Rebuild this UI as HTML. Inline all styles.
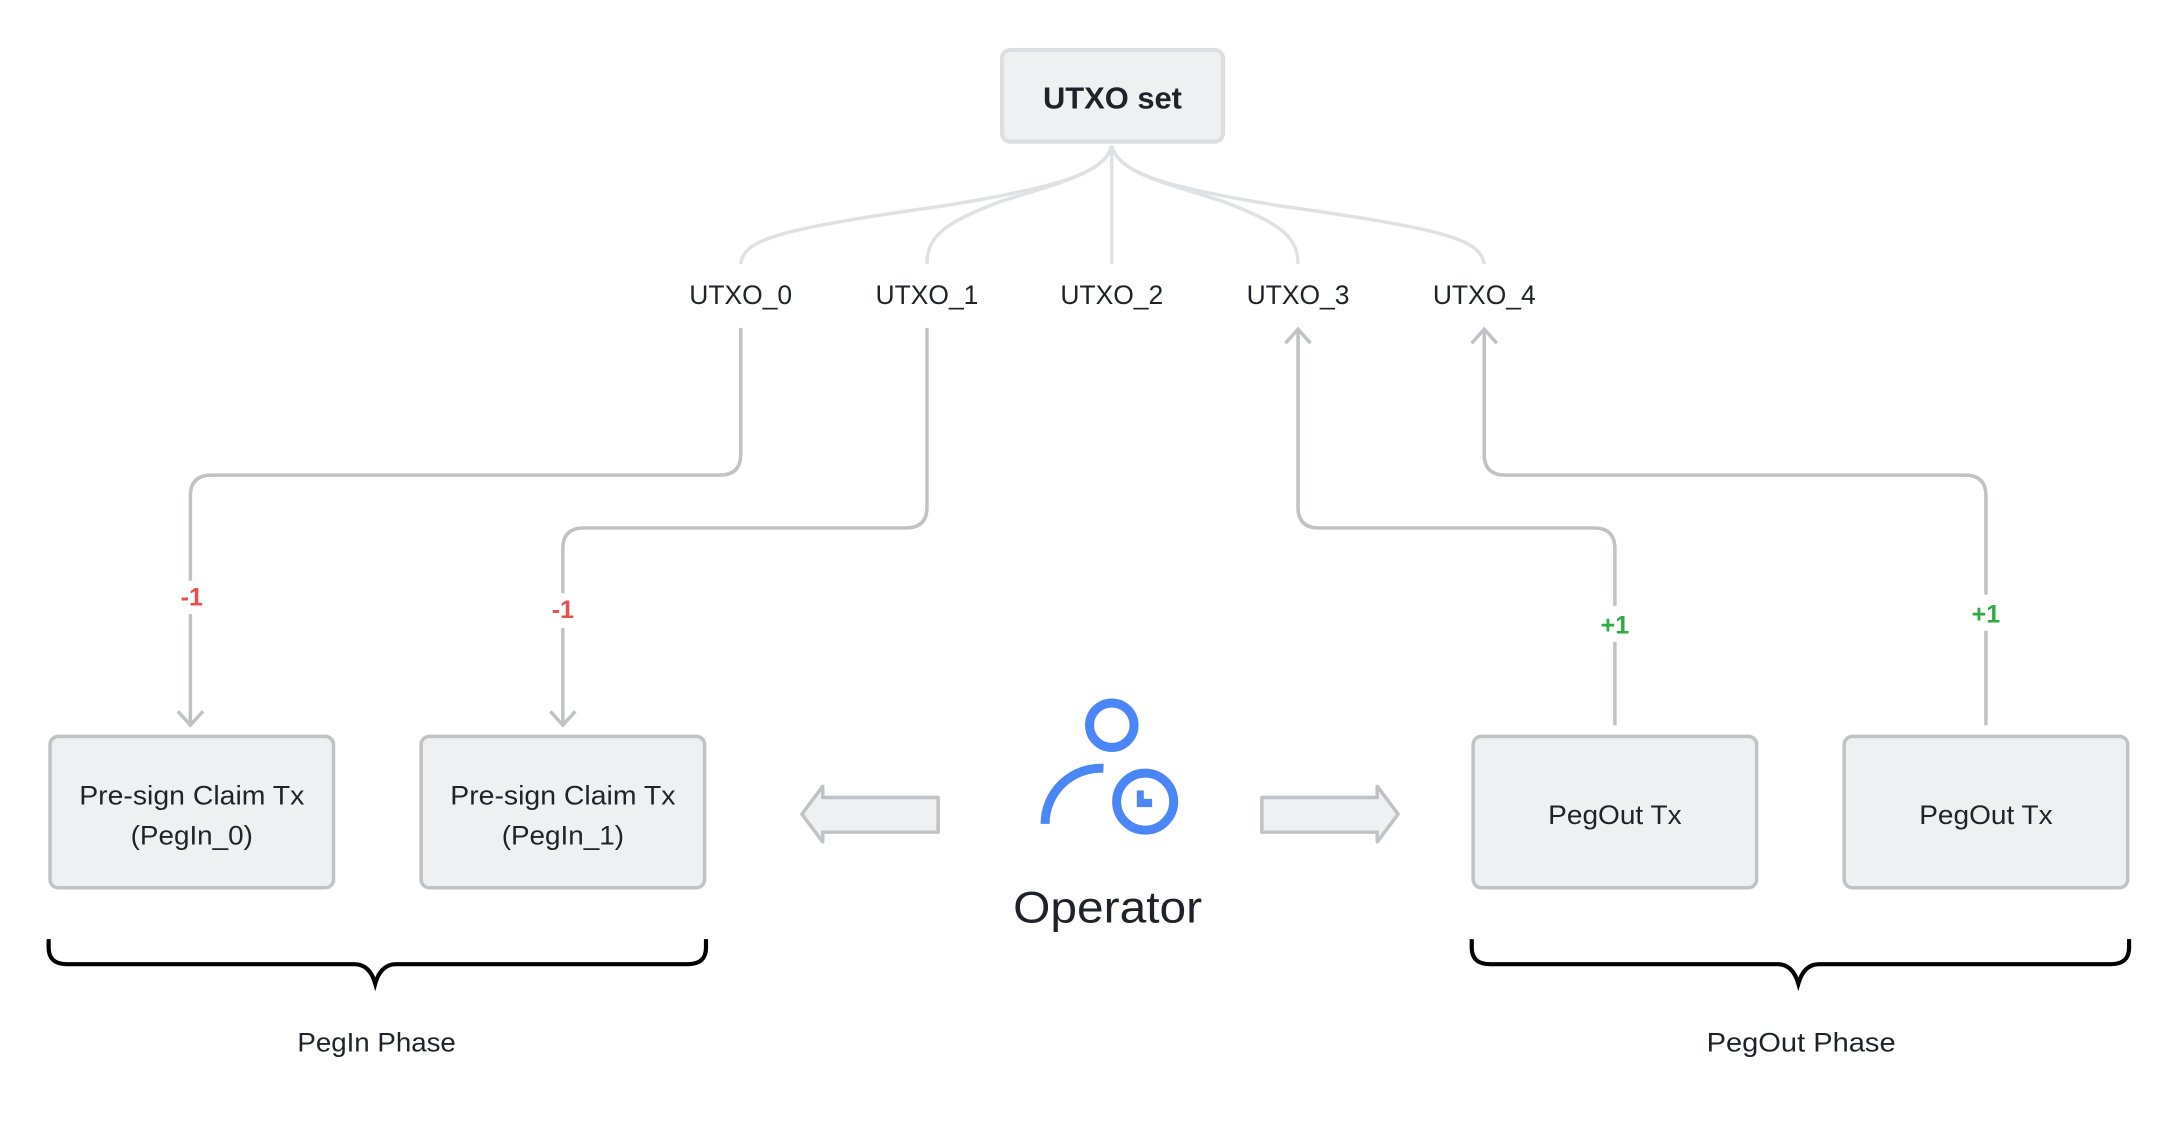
<!DOCTYPE html>
<html><head><meta charset="utf-8"><style>
html,body{margin:0;padding:0;background:#fff;}
svg{display:block;}
text{font-family:"Liberation Sans","DejaVu Sans",sans-serif;}
</style></head><body>
<svg width="2168" height="1142" viewBox="0 0 1560 822" preserveAspectRatio="none" xmlns="http://www.w3.org/2000/svg">
<!-- UTXO set -->
<rect x="721" y="36" width="159" height="66" rx="6" fill="#eff0f2" stroke="#dcdee1" stroke-width="3"/>
<text x="800.5" y="78" font-size="22" font-weight="bold" fill="#1f2329" text-anchor="middle" textLength="100" lengthAdjust="spacingAndGlyphs">UTXO set</text>
<!-- curves -->
<g fill="none" stroke="#e0e1e4" stroke-width="2.5">
<path d="M800,105 C795,125 760,135 680,148 C560,165 535,172 533,190"/>
<path d="M800,105 C795,125 760,132 720,145 C680,160 667,170 667,190"/>
<path d="M800,105 L800,190"/>
<path d="M800,105 C805,125 840,132 880,145 C920,160 934,170 934,190"/>
<path d="M800,105 C805,125 840,135 920,148 C1040,165 1065,172 1068,190"/>
</g>
<!-- UTXO labels -->
<g font-size="19" fill="#1f2329" text-anchor="middle">
<text x="533" y="219" textLength="74" lengthAdjust="spacingAndGlyphs">UTXO_0</text>
<text x="667" y="219" textLength="74" lengthAdjust="spacingAndGlyphs">UTXO_1</text>
<text x="800" y="219" textLength="74" lengthAdjust="spacingAndGlyphs">UTXO_2</text>
<text x="934" y="219" textLength="74" lengthAdjust="spacingAndGlyphs">UTXO_3</text>
<text x="1068" y="219" textLength="74" lengthAdjust="spacingAndGlyphs">UTXO_4</text>
</g>
<!-- connectors -->
<g fill="none" stroke="#c0c2c6" stroke-width="2.5">
<path d="M533,236 L533,327 Q533,342 518,342 L152,342 Q137,342 137,357 L137,418"/>
<path d="M137,442 L137,522"/>
<path d="M128,512 L137,522 L146,512"/>
<path d="M667,236 L667,365 Q667,380 652,380 L420,380 Q405,380 405,395 L405,427"/>
<path d="M405,452 L405,522"/>
<path d="M396,512 L405,522 L414,512"/>
<path d="M934,238 L934,365 Q934,380 949,380 L1147,380 Q1162,380 1162,395 L1162,436"/>
<path d="M1162,462 L1162,522"/>
<path d="M925,247 L934,237 L943,247"/>
<path d="M1068,238 L1068,327 Q1068,342 1083,342 L1414,342 Q1429,342 1429,357 L1429,428"/>
<path d="M1429,454 L1429,522"/>
<path d="M1059,247 L1068,237 L1077,247"/>
</g>
<g font-size="18" font-weight="bold" text-anchor="middle">
<text x="138" y="436" fill="#f04b4b">-1</text>
<text x="405" y="445" fill="#f04b4b">-1</text>
<text x="1162" y="456" fill="#2eaa44">+1</text>
<text x="1429" y="448" fill="#2eaa44">+1</text>
</g>
<!-- boxes -->
<g fill="#eff0f2" stroke="#c0c2c6" stroke-width="2.5">
<rect x="36" y="530" width="204" height="109" rx="6"/>
<rect x="303" y="530" width="204" height="109" rx="6"/>
<rect x="1060" y="530" width="204" height="109" rx="6"/>
<rect x="1327" y="530" width="204" height="109" rx="6"/>
</g>
<g font-size="19" fill="#1f2329" text-anchor="middle">
<text x="138" y="579" textLength="162" lengthAdjust="spacingAndGlyphs">Pre-sign Claim Tx</text>
<text x="138" y="608" textLength="88" lengthAdjust="spacingAndGlyphs">(PegIn_0)</text>
<text x="405" y="579" textLength="162" lengthAdjust="spacingAndGlyphs">Pre-sign Claim Tx</text>
<text x="405" y="608" textLength="88" lengthAdjust="spacingAndGlyphs">(PegIn_1)</text>
<text x="1162" y="593" textLength="96" lengthAdjust="spacingAndGlyphs">PegOut Tx</text>
<text x="1429" y="593" textLength="96" lengthAdjust="spacingAndGlyphs">PegOut Tx</text>
</g>
<!-- hollow arrows -->
<g fill="#eff0f2" stroke="#c0c2c6" stroke-width="2.5" stroke-linejoin="round">
<path d="M675,574 L592,574 L592,566 L577,586 L592,606 L592,599 L675,599 Z"/>
<path d="M908,574 L991,574 L991,566 L1006,586 L991,606 L991,599 L908,599 Z"/>
</g>
<!-- operator icon -->
<g fill="none" stroke="#4a86f7" stroke-width="6.5">
<circle cx="800" cy="522" r="16"/>
<path d="M752,593 A40,40 0 0 1 794,553"/>
<circle cx="824" cy="577" r="20.5"/>
</g>
<path d="M818,569 L823,569 L823,575 L829,575 L829,581 L818,581 Z" fill="#4a86f7"/>
<text x="797" y="664" font-size="32" fill="#1f2329" text-anchor="middle" textLength="136" lengthAdjust="spacingAndGlyphs">Operator</text>
<!-- braces -->
<g fill="none" stroke="#000" stroke-width="3">
<path d="M35,676 L35,682 Q35,694 48,694 L255,694 Q266,694 270,708 Q274,694 285,694 L495,694 Q508,694 508,682 L508,676"/>
<path d="M1059,676 L1059,682 Q1059,694 1072,694 L1279,694 Q1290,694 1294,708 Q1298,694 1309,694 L1519,694 Q1532,694 1532,682 L1532,676"/>
</g>
<g font-size="19" fill="#1f2329" text-anchor="middle">
<text x="271" y="757" textLength="114" lengthAdjust="spacingAndGlyphs">PegIn Phase</text>
<text x="1296" y="757" textLength="136" lengthAdjust="spacingAndGlyphs">PegOut  Phase</text>
</g>
</svg>
</body></html>
